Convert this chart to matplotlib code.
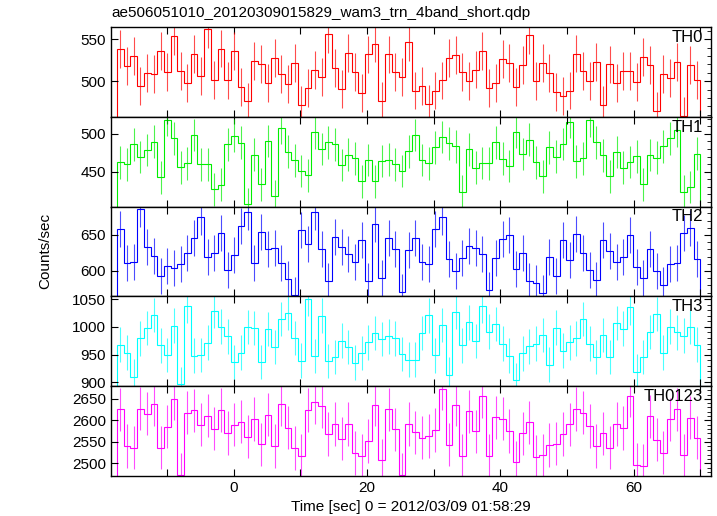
import numpy as np
import matplotlib
matplotlib.use('Agg')
import matplotlib.pyplot as plt
from matplotlib.ticker import MultipleLocator

plt.rcParams['font.family'] = ['Liberation Sans', 'DejaVu Sans']
plt.rcParams['font.size'] = 11

# time range covered by the 87 bins (sec)
t_start = -17.5
t_stop = 70.0

# count rates per band (counts/sec)
th0 = [538.5, 518, 530, 494, 509.5, 509, 536, 511, 554, 512,
       497.6, 532.5, 506, 562, 502, 539, 501, 536, 493, 476,
       524.6, 520.6, 498, 528, 509, 496.4, 521.4, 472, 492, 513,
       505, 556, 515.5, 490.5, 534, 511.5, 486, 532, 545, 477,
       532, 511, 505, 546.5, 489, 494, 473, 489, 501, 528,
       531, 511, 500, 514, 536, 491.7, 497.6, 527, 522, 493,
       519.5, 555, 500, 522, 509.5, 487, 482.5, 489, 533, 512,
       500, 522.6, 472, 520, 497.6, 512.7, 512, 499.6, 529, 519.5,
       464.7, 509, 503.6, 522.6, 459, 519.5, 502]
th1 = [462.4, 459.7, 486.3, 469.5, 478.8, 489.8, 442.5, 519, 494, 455.8,
       461, 498.7, 459.7, 459.7, 426.5, 432.7, 486.3, 497.8, 488.5, 406.6,
       472.6, 433, 490.7, 417.7, 508.4, 476.5, 465, 451, 445, 502,
       480, 489, 486.3, 458.8, 472.6, 467.7, 437, 465.5, 437, 464,
       466, 459.7, 451, 477, 498.5, 465.5, 461, 482.3, 496, 487.6,
       483.6, 423.5, 479.6, 455.3, 461.5, 461, 489, 467, 457.5, 503,
       473.5, 492.5, 462.4, 443.8, 482.3, 470, 486.7, 516.4, 463.7, 467.7,
       518, 489, 471.7, 443.8, 476, 455.3, 462.8, 470.4, 433, 472,
       468.6, 483.6, 494, 505, 423.5, 429.6, 474]
th2 = [658.3, 610.6, 612.5, 686, 632.9, 620.8, 593, 607.4, 603.7, 609.3,
       624.5, 645.8, 675.5, 619, 624.5, 652.3, 601.4, 621.8, 662.5, 681.5,
       611.6, 654.6, 630, 631.5, 611, 589, 566.7, 656.5, 637.5, 681.5,
       630.6, 586, 646.8, 633.3, 623, 612, 642.6, 586, 665.7, 590.7,
       645.8, 630.6, 570.8, 628.5, 645.6, 612, 609.7, 657.9, 674.5, 616.7,
       599.5, 617.6, 634.3, 632.4, 623, 573.6, 617.6, 644.4, 649.5, 602.8,
       624.5, 585.6, 582.9, 569.4, 619.9, 592.6, 643, 615.3, 651.9, 625.5,
       601, 587.5, 642.6, 627.8, 613, 619.9, 650, 605.6, 589.8, 630,
       600.5, 580.6, 609.3, 610.6, 652.3, 660.2, 616.7]
th3 = [968, 953.6, 910.2, 979.5, 998.2, 1021.7, 966.9, 949.4, 1002.4, 897,
       1038, 948.2, 949.4, 971.7, 1029.5, 1000.6, 983, 936.7, 953.6, 1000,
       998.2, 936.7, 996.4, 963.9, 1014.5, 1025.3, 980, 939.2, 1051.2, 947.6,
       1020.5, 938.6, 945.8, 975.3, 963.9, 935.5, 953, 972.3, 989.2, 978.3,
       983, 979.5, 951, 941, 941, 989.2, 1021, 948.8, 1003.6, 913.9,
       1027, 966.9, 1008.4, 974.7, 1038, 991.6, 1005.4, 969.9, 948.2, 904.2,
       952.4, 965, 969.9, 985.5, 932, 998.8, 957.2, 972.3, 979.5, 1014.5,
       969.9, 945.8, 985.5, 945.8, 1007.2, 997, 1035.5, 919.3, 945.8, 991,
       1023.5, 953.6, 1000.6, 990.4, 984.3, 1000, 968]
th0123 = [2625.6, 2540.2, 2536.3, 2627.2, 2615.5, 2638, 2536.3, 2585.2, 2650.5, 2473.3,
          2617.9, 2623.3, 2589.9, 2610.9, 2580.6, 2624.1, 2571.2, 2589.9, 2596.9, 2561.9,
          2603.1, 2544, 2613.2, 2540.2, 2638, 2582.9, 2535.5, 2517.6, 2624.1, 2642,
          2632.6, 2568.1, 2591.5, 2557.3, 2591.5, 2523.8, 2516.8, 2551.8, 2636.5, 2506.7,
          2625.6, 2579, 2473.3, 2591.5, 2572, 2559.6, 2564.2, 2577.5, 2673.8, 2543.3,
          2636.5, 2516.8, 2621, 2574.4, 2656, 2517.6, 2607, 2603.9, 2575.1, 2502,
          2569.7, 2595.3, 2514.5, 2518.4, 2542.5, 2545.6, 2568.1, 2590.7, 2626.4, 2617.9,
          2586.8, 2540.2, 2569.7, 2536.3, 2591.5, 2582.1, 2657.5, 2496.6, 2493.5, 2609.3,
          2554.9, 2524.6, 2602.3, 2625.6, 2518.4, 2606.2, 2559.6]

# typical 1-sigma error per band
band_errors = [22.5, 21.7, 25.1, 31.2, 50.8]

band_names = ['TH0', 'TH1', 'TH2', 'TH3', 'TH0123']
band_colors = ['#ff0000', '#00ee00', '#0000ff', '#00ffff', '#ff00ff']
y_ranges = [(457.5, 564.3), (403.6, 522.5), (564.7, 689.3), (893.3, 1055.2), (2471, 2680)]
y_ticks = [[500, 550], [450, 500], [600, 650], [900, 950, 1000, 1050], [2500, 2550, 2600, 2650]]
y_minor = [10, 10, 10, 10, 10]

series = [th0, th1, th2, th3, th0123]

fig = plt.figure(figsize=(7.17, 5.16), dpi=100)

left = 111 / 717
width = 600 / 717
top_px = 27.3
panel_px = 89.68

for i in range(5):
    bottom = 1 - (top_px + panel_px * (i + 1)) / 516
    ax = fig.add_axes([left, bottom, width, panel_px / 516])

    vals = np.array(series[i])
    edges = np.linspace(t_start, t_stop, len(vals) + 1)
    centers = 0.5 * (edges[:-1] + edges[1:])

    ax.stairs(vals, edges, color=band_colors[i], lw=0.8)
    ax.errorbar(centers, vals, yerr=band_errors[i], fmt='none',
                ecolor=band_colors[i], elinewidth=0.8, alpha=0.7)

    ax.set_xlim(-18.4, 71.6)
    ax.set_ylim(*y_ranges[i])
    ax.set_yticks(y_ticks[i])
    ax.yaxis.set_minor_locator(MultipleLocator(y_minor[i]))
    ax.set_xticks(np.arange(-10, 71, 10))
    ax.tick_params(direction='in', top=True, right=True, length=5, width=0.8,
                   labelsize=11)
    ax.tick_params(which='minor', direction='in', left=False, right=True, length=3, width=0.6)
    if i < 4:
        ax.set_xticklabels([])
    else:
        ax.set_xticklabels(['' if v % 20 else str(v) for v in np.arange(-10, 71, 10)])
    for sp in ax.spines.values():
        sp.set_linewidth(1.0)

    ax.text(0.987, 0.885, band_names[i], transform=ax.transAxes,
            ha='right', va='center', fontsize=12)

fig.text(111 / 717, 1 - 13 / 516, 'ae506051010_20120309015829_wam3_trn_4band_short.qdp',
         ha='left', va='center', fontsize=11)
fig.text(45 / 717, 1 - 251 / 516, 'Counts/sec', rotation=90, ha='center', va='center', fontsize=11)
fig.text(411 / 717, 1 - 507 / 516, 'Time [sec] 0 = 2012/03/09 01:58:29',
         ha='center', va='center', fontsize=11)

fig.savefig('out.png', dpi=100)
